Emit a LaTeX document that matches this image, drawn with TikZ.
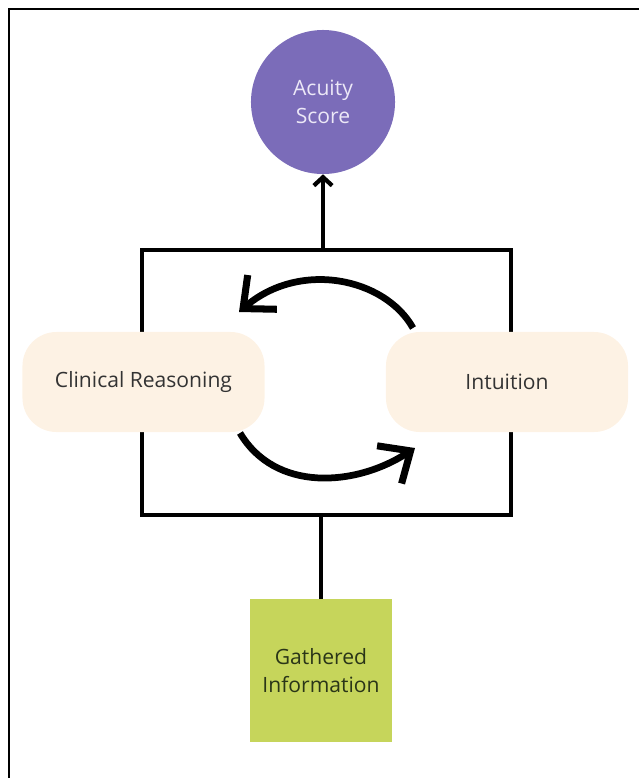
\documentclass[tikz,border=0pt]{standalone}
\usepackage{fontspec}
\setmainfont{Open Sans}
\usetikzlibrary{positioning}
\usetikzlibrary{arrows.meta}
\definecolor{scorepurple}{HTML}{7B6CB9}
\definecolor{scoretext}{HTML}{ECE8F7}
\definecolor{thinkfill}{HTML}{FDF2E4}
\definecolor{infogreen}{HTML}{C6D55B}
\definecolor{infotext}{HTML}{2A3518}

\begin{document}
\begin{tikzpicture}[x=0.025cm,y=-0.025cm,
  thinkbox/.style={fill=thinkfill,rounded corners=0.85cm,minimum width=6.05cm,minimum height=2.5cm,font=\fontsize{15}{18}\selectfont,text=black!80},
  cycle/.style={line width=4.8pt,-{Straight Barb[length=18pt,width=32pt,line width=5pt]}}]
 \useasboundingbox (0,0) rectangle (639,778);
 \draw[line width=2pt](9,778)--(9,9)--(639,9); 
 % frame round the two ways of thinking
 \node[draw,line width=3pt,minimum width=9.22cm,minimum height=6.62cm](loop) at (326.5,382.5) {}; 
 \node[circle,fill=scorepurple,minimum size=3.6cm,align=center,text=scoretext,font=\fontsize{15}{20}\selectfont](score) at (323,102) {Acuity\\Score}; 
 \node[thinkbox](reason) at (143.5,382) {Clinical Reasoning}; 
 \node[thinkbox](intuit) at (507,382) {Intuition}; 
 \node[fill=infogreen,minimum width=3.55cm,minimum height=3.55cm,align=center,text=infotext,font=\fontsize{15}{20}\selectfont](info) at (321,670.5) {Gathered\\Information}; 
 \draw[line width=3pt](info.north)--(info.north|-loop.south); 
 \draw[line width=3pt,-{Straight Barb[length=6pt,width=13pt,line width=3pt]}](score.south|-loop.north)--(score.south); 
 % the two ways feed each other
 \coordinate (topA) at (413,328); 
 \coordinate (topB) at (239,312); 
 \coordinate (botA) at (240,433); 
 \coordinate (botB) at (415,448); 
 \draw[cycle](topA) .. controls (385,278) and (300,260) .. (topB); 
 \draw[cycle](botA) .. controls (275,492) and (355,487) .. (botB); 
\end{tikzpicture}
\end{document}
